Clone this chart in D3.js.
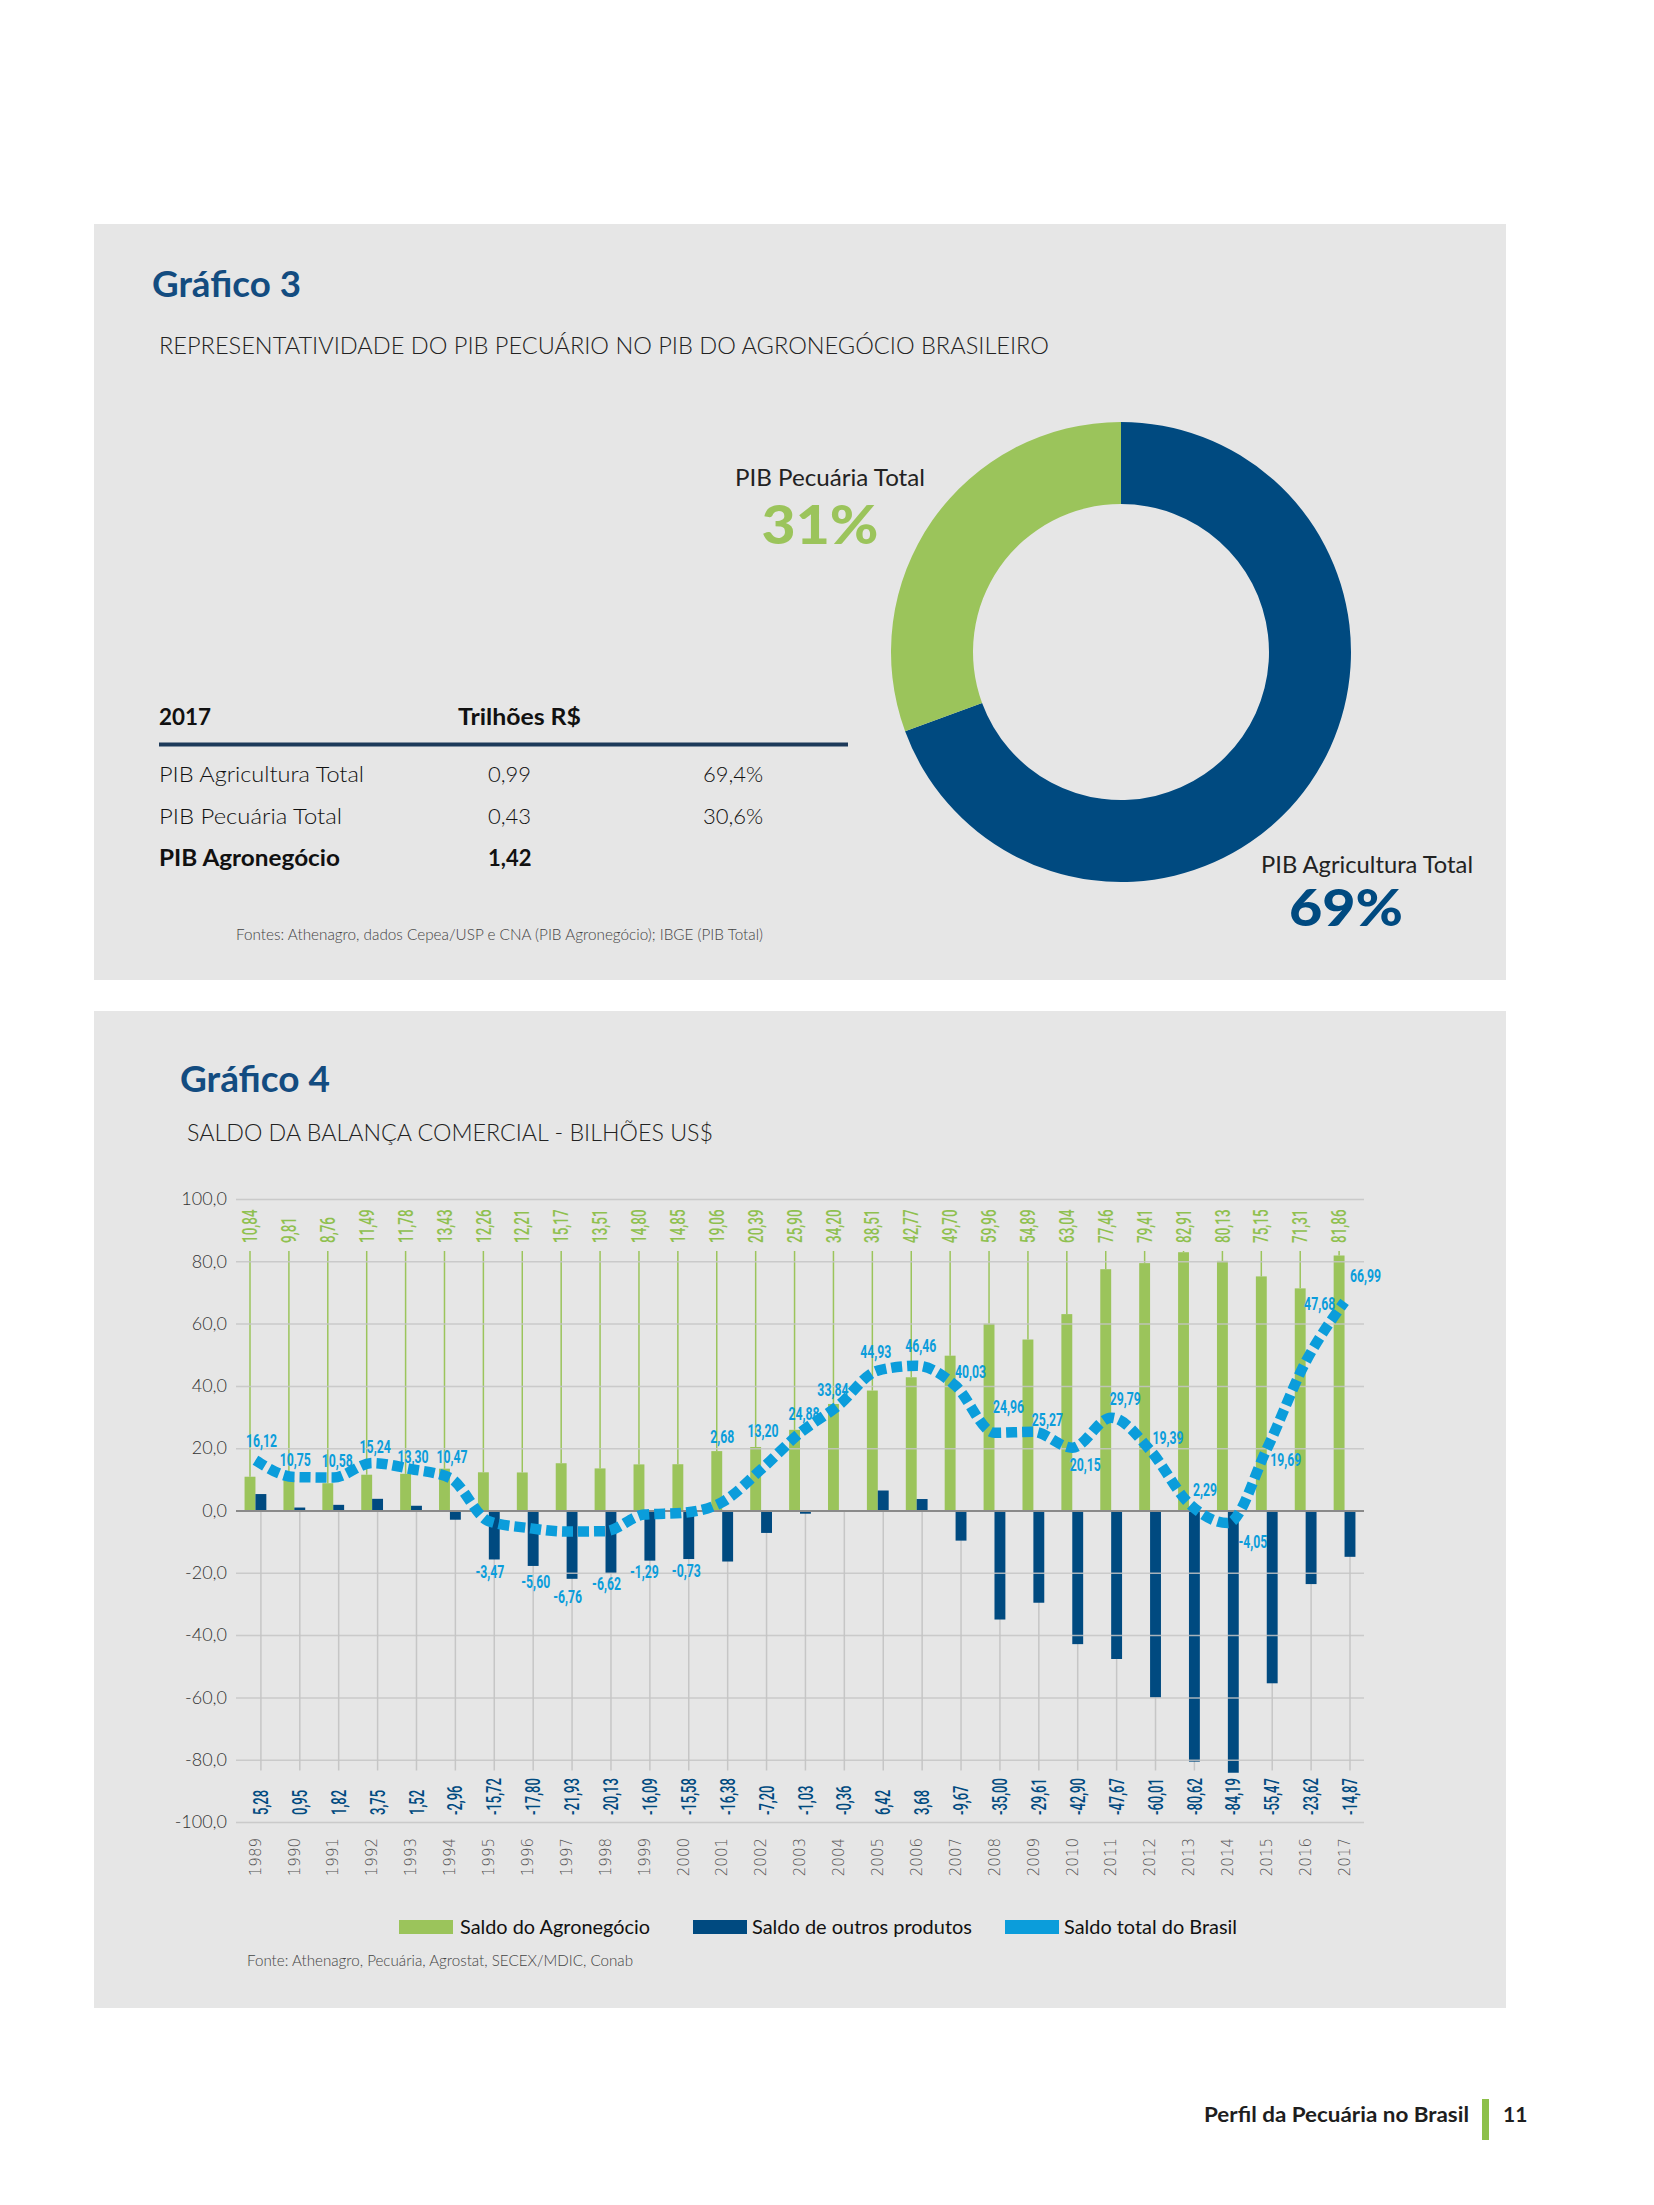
<!DOCTYPE html>
<html><head><meta charset="utf-8">
<script src="https://cdn.jsdelivr.net/npm/d3@7"></script>
<style>body{margin:0;background:#fff}svg{display:block}</style>
</head><body>
<svg id="c" width="1654" height="2205"></svg>
<script>
// ---------- DATA ----------
const pieLabels = ["PIB Agricultura Total", "PIB Pecuária Total"];
const pieValues = [69.4, 30.6];
const piePercents = ["69%", "31%"];

const tableHead = ["2017", "Trilhões R$"];
const tableRows = ["PIB Agricultura Total", "PIB Pecuária Total", "PIB Agronegócio"];
const tableTrilhoes = ["0,99", "0,43", "1,42"];
const tableShare = ["69,4%", "30,6%", ""];

const years = ["1989","1990","1991","1992","1993","1994","1995","1996","1997","1998","1999","2000","2001","2002","2003","2004","2005","2006","2007","2008","2009","2010","2011","2012","2013","2014","2015","2016","2017"];
const saldoAgro = [10.84,9.81,8.76,11.49,11.78,13.43,12.26,12.21,15.17,13.51,14.80,14.85,19.06,20.39,25.90,34.20,38.51,42.77,49.70,59.96,54.89,63.04,77.46,79.41,82.91,80.13,75.15,71.31,81.86];
const saldoOutros = [5.28,0.95,1.82,3.75,1.52,-2.96,-15.72,-17.80,-21.93,-20.13,-16.09,-15.58,-16.38,-7.20,-1.03,-0.36,6.42,3.68,-9.67,-35.00,-29.61,-42.90,-47.67,-60.01,-80.62,-84.19,-55.47,-23.62,-14.87];
const saldoTotal = [16.12,10.75,10.58,15.24,13.30,10.47,-3.47,-5.60,-6.76,-6.62,-1.29,-0.73,2.68,13.20,24.88,33.84,44.93,46.46,40.03,24.96,25.27,20.15,29.79,19.39,2.29,-4.05,19.69,47.68,66.99];
const yTicks = [-100,-80,-60,-40,-20,0,20,40,60,80,100];
const legendLabels = ["Saldo do Agronegócio", "Saldo de outros produtos", "Saldo total do Brasil"];

// ---------- LAYOUT / STYLE ----------
const FONT = "Lato, 'Open Sans', sans-serif";
const NUMFONT = "Roboto, 'DejaVu Sans', sans-serif";
const C_BLUE = "#004a80", C_GREEN = "#9bc45b", C_LBLUE = "#0b9ddb", C_TITLE = "#134c80";
// label offsets for total-line labels (px, relative to point)
const lineLabelDx = [6,1,4,3,2,2,1,8,1,1,0,3,0,2,4,-6,-2,4,15,14,14,13,14,18,16,25,19,14,21];
const lineLabelDy = [-13,-11,-11,-10,-6,-15,57,60,71,59,63,64,-59,-32,-13,-9,-13,-14,-8,-20,-6,23,-13,-6,-7,25,17,-52,-20];

const svg = d3.select("#c");
svg.append("rect").attr("width",1654).attr("height",2205).attr("fill","#fff");
svg.append("rect").attr("x",94).attr("y",224).attr("width",1412).attr("height",756).attr("fill","#e6e6e6");
svg.append("rect").attr("x",94).attr("y",1011).attr("width",1412).attr("height",997).attr("fill","#e6e6e6");

function txt(g, s, x, y, o) {
  const t = g.append("text").attr("x",x).attr("y",y).text(s)
    .attr("font-family", o.ff || FONT).attr("font-size", o.fs)
    .attr("font-weight", o.fw || 400).attr("fill", o.c || "#222")
    .attr("text-anchor", o.a || "start");
  if (o.tl) t.attr("textLength", o.tl).attr("lengthAdjust", "spacingAndGlyphs");
  return t;
}

// ---------- GRÁFICO 3 ----------
txt(svg, "Gráfico 3", 152, 297, {fs:37, fw:700, c:C_TITLE, tl:149});
txt(svg, "REPRESENTATIVIDADE DO PIB PECUÁRIO NO PIB DO AGRONEGÓCIO BRASILEIRO", 159, 354, {fs:24, fw:300, c:"#222", tl:890});

const pie = d3.pie().sort(null).value(d => d)(pieValues);
const arc = d3.arc().innerRadius(148).outerRadius(230);
svg.append("g").attr("transform","translate(1121,652)")
  .selectAll("path").data(pie).join("path")
  .attr("d", arc).attr("fill", (d,i) => i === 0 ? C_BLUE : C_GREEN);

txt(svg, pieLabels[1], 830, 486, {fs:23, a:"middle", tl:190});
txt(svg, piePercents[1], 820, 544, {fs:54, fw:900, c:"#9bc45b", a:"middle", tl:117});
txt(svg, pieLabels[0], 1367, 873, {fs:23, a:"middle", tl:212});
txt(svg, piePercents[0], 1346, 926, {fs:52, fw:900, c:C_BLUE, a:"middle", tl:114});

txt(svg, tableHead[0], 159, 725, {fs:22, fw:700, c:"#111", tl:52});
txt(svg, tableHead[1], 458, 725, {fs:22, fw:700, c:"#111", tl:123});
svg.append("line").attr("x1",159).attr("x2",848).attr("y1",744.5).attr("y2",744.5)
  .attr("stroke","#1d3a5a").attr("stroke-width",4);
const rowY = [782, 824, 866];
const rowTL = [205, 183, 181];
tableRows.forEach((r,i) => {
  const bold = i === 2;
  txt(svg, r, 159, rowY[i], {fs:22, fw: bold?700:300, c:"#111", tl:rowTL[i]});
  txt(svg, tableTrilhoes[i], 488, rowY[i], {fs:22, fw: bold?700:300, c:"#111"});
  if (tableShare[i]) txt(svg, tableShare[i], 703, rowY[i], {fs:22, fw:300, c:"#111"});
});
txt(svg, "Fontes: Athenagro, dados Cepea/USP e CNA (PIB Agronegócio); IBGE (PIB Total)", 236, 940, {fs:15, fw:300, c:"#444", tl:527});

// ---------- GRÁFICO 4 ----------
txt(svg, "Gráfico 4", 180, 1092, {fs:37, fw:700, c:C_TITLE, tl:150});
txt(svg, "SALDO DA BALANÇA COMERCIAL - BILHÕES US$", 187, 1141, {fs:24, fw:300, c:"#222", tl:526});

const loc = d3.formatLocale({decimal:",", thousands:".", grouping:[3], currency:["",""], minus:"-"});
const f2 = loc.format(".2f"), f1 = loc.format(".1f");

const X0 = 236, X1 = 1364;
const x = d3.scaleBand().domain(years).range([X0, X1]).padding(0);
const y = d3.scaleLinear().domain([-100, 100]).range([1822, 1199]);
const bw = x.bandwidth() * 0.28;
const cx = d => x(d) + x.bandwidth() / 2;
const rows = years.map((yr,i) => ({yr, a: saldoAgro[i], o: saldoOutros[i], t: saldoTotal[i], i}));

const plot = svg.append("g");
// gray drop lines (below zero)
plot.selectAll(".vg").data(rows).join("line")
  .attr("x1", d => cx(d.yr) + bw/2).attr("x2", d => cx(d.yr) + bw/2)
  .attr("y1", y(0)).attr("y2", y(-83.5))
  .attr("stroke", "#c6c6c6").attr("stroke-width", 1.5);
// green thin lines from top labels to bar
plot.selectAll(".vgr").data(rows).join("line")
  .attr("x1", d => cx(d.yr) - bw/2).attr("x2", d => cx(d.yr) - bw/2)
  .attr("y1", 1251).attr("y2", d => y(d.a))
  .attr("stroke", C_GREEN).attr("stroke-width", 1.5);
// bars
plot.selectAll(".ba").data(rows).join("rect")
  .attr("x", d => cx(d.yr) - bw).attr("width", bw)
  .attr("y", d => y(Math.max(0, d.a))).attr("height", d => Math.abs(y(d.a) - y(0)))
  .attr("fill", C_GREEN);
plot.selectAll(".bo").data(rows).join("rect")
  .attr("x", d => cx(d.yr)).attr("width", bw)
  .attr("y", d => y(Math.max(0, d.o))).attr("height", d => Math.abs(y(d.o) - y(0)))
  .attr("fill", C_BLUE);

// y axis + gridlines (on top of bars)
const gAx = svg.append("g").attr("transform", `translate(${X0},0)`)
  .call(d3.axisLeft(y).tickValues(yTicks).tickSize(-(X1 - X0)).tickPadding(9).tickFormat(f1));
gAx.select(".domain").remove();
gAx.selectAll(".tick line").attr("stroke", d => d === 0 ? "#8a8a8a" : "#c4c4c4")
  .attr("stroke-width", d => d === 0 ? 2 : 1.5).attr("opacity", d => d === 0 ? 1 : 0.85);
gAx.selectAll(".tick text").attr("font-family", FONT).attr("font-size", 18)
  .attr("font-weight", 300).attr("fill", "#333");

// total line
const line = d3.line().x(d => cx(d.yr)).y(d => y(d.t)).curve(d3.curveMonotoneX);
svg.append("path").datum(rows).attr("d", line).attr("fill", "none")
  .attr("stroke", C_LBLUE).attr("stroke-width", 10.5).attr("stroke-dasharray", "11 5");

// top green value labels (rotated)
svg.append("g").selectAll("text").data(rows).join("text")
  .attr("transform", d => `translate(${cx(d.yr) - bw/2},1243) rotate(-90) scale(0.64,1)`)
  .attr("dominant-baseline", "central").attr("text-anchor", "start")
  .attr("font-family", NUMFONT).attr("font-weight", 500).attr("font-size", 21)
  .attr("fill", "#8fc04f").text(d => f2(d.a));
// bottom dark value labels (rotated)
svg.append("g").selectAll("text").data(rows).join("text")
  .attr("transform", d => `translate(${cx(d.yr) + bw/2},1815) rotate(-90) scale(0.65,1)`)
  .attr("dominant-baseline", "central").attr("text-anchor", "start")
  .attr("font-family", NUMFONT).attr("font-weight", 500).attr("font-size", 20)
  .attr("fill", C_BLUE).text(d => f2(d.o));
// year labels via axis
const gX = svg.append("g").attr("transform", "translate(0,1838)")
  .call(d3.axisBottom(x).tickSize(0));
gX.select(".domain").remove();
gX.selectAll(".tick text").attr("x", 0).attr("y", 0).attr("dy", "0.35em")
  .attr("transform", "rotate(-90)").attr("text-anchor", "end")
  .attr("font-family", "'DejaVu Sans', sans-serif").attr("font-weight", 300)
  .attr("font-size", 15).attr("fill", "#555");
// total line labels
svg.append("g").selectAll("text").data(rows).join("text")
  .attr("transform", d => `translate(${cx(d.yr) + lineLabelDx[d.i]},${y(d.t) + lineLabelDy[d.i]}) scale(0.68,1)`)
  .attr("text-anchor", "middle")
  .attr("font-family", NUMFONT).attr("font-weight", 700).attr("font-size", 18)
  .attr("fill", C_LBLUE).text(d => f2(d.t));

// legend
const legX = [399, 693, 1005], legTX = [460, 752, 1064], legTL = [190, 220, 173];
const legC = [C_GREEN, C_BLUE, C_LBLUE];
legendLabels.forEach((l,i) => {
  svg.append("rect").attr("x", legX[i]).attr("y", 1920).attr("width", 54).attr("height", 14).attr("fill", legC[i]);
  txt(svg, l, legTX[i], 1934, {fs:19, c:"#111", tl:legTL[i]});
});
txt(svg, "Fonte: Athenagro, Pecuária, Agrostat, SECEX/MDIC, Conab", 247, 1966, {fs:15, fw:300, c:"#444", tl:386});

// footer
txt(svg, "Perfil da Pecuária no Brasil", 1204, 2122, {fs:21, fw:700, c:"#1e1e1e", tl:265});
svg.append("rect").attr("x", 1482).attr("y", 2099).attr("width", 7).attr("height", 41).attr("fill", "#8dc04a");
txt(svg, "11", 1503, 2122, {fs:21, fw:700, c:"#1e1e1e"});
</script>
</body></html>
